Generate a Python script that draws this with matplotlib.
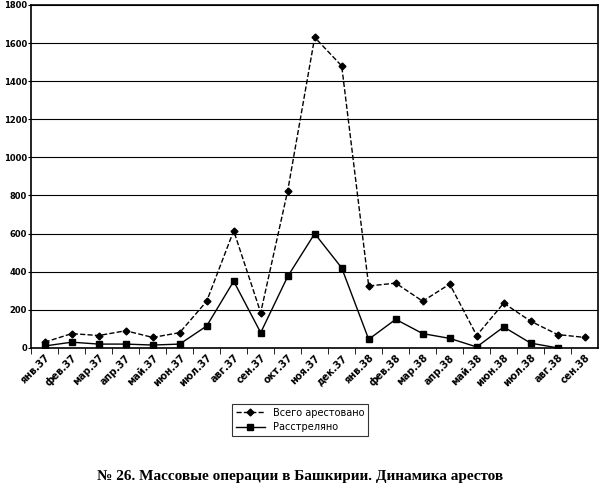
import matplotlib
matplotlib.use("Agg")
import matplotlib.pyplot as plt

labels = ["янв.37","фев.37","мар.37","апр.37","май.37","июн.37","июл.37","авг.37","сен.37","окт.37","ноя.37","дек.37",
          "янв.38","фев.38","мар.38","апр.38","май.38","июн.38","июл.38","авг.38","сен.38"]
arrested = [30,75,65,90,55,80,245,615,185,825,1630,1480,325,340,245,335,65,235,140,70,55]
shot = [10,30,20,20,15,20,115,350,80,375,600,420,45,150,75,50,5,110,25,0]

fig = plt.figure(figsize=(6.0,4.97), dpi=100)
ax = fig.add_axes([0.052, 0.30, 0.945, 0.69])
x = list(range(len(labels)))
ax.plot(x, arrested, 'k--', marker='D', markersize=3.5, lw=1, label="Всего арестовано")
ax.plot(x[:len(shot)], shot, 'k-', marker='s', markersize=4.5, lw=1, label="Расстреляно")
ax.set_xlim(-0.5, len(labels)-0.5)
ax.set_ylim(0, 1800)
ax.set_yticks(range(0,1801,200))
ax.yaxis.grid(True, color='k', lw=0.8)
ax.set_axisbelow(True)
ax.set_xticks([i-0.5 for i in x], minor=True)
ax.set_xticks(x)
ax.set_xticklabels(labels, rotation=45, ha='right', rotation_mode='anchor', fontsize=7)
ax.tick_params(axis='x', which='major', length=0)
ax.tick_params(axis='x', which='minor', length=4)
ax.tick_params(axis='y', labelsize=6, length=2, pad=1)
for lab in ax.get_yticklabels():
    lab.set_fontweight('bold')
for lab in ax.get_xticklabels():
    lab.set_fontweight('bold')
for s in ax.spines.values():
    s.set_linewidth(1.2)
leg = fig.legend(loc='center', bbox_to_anchor=(0.5, 0.155), fontsize=7, frameon=True,
                 edgecolor='k', fancybox=False, handlelength=3)
leg.get_frame().set_linewidth(0.8)
fig.text(0.5, 0.035, "№ 26. Массовые операции в Башкирии. Динамика арестов", ha='center',
         fontsize=11, fontweight='bold', family='Liberation Serif')
fig.savefig("out.png", dpi=100)
